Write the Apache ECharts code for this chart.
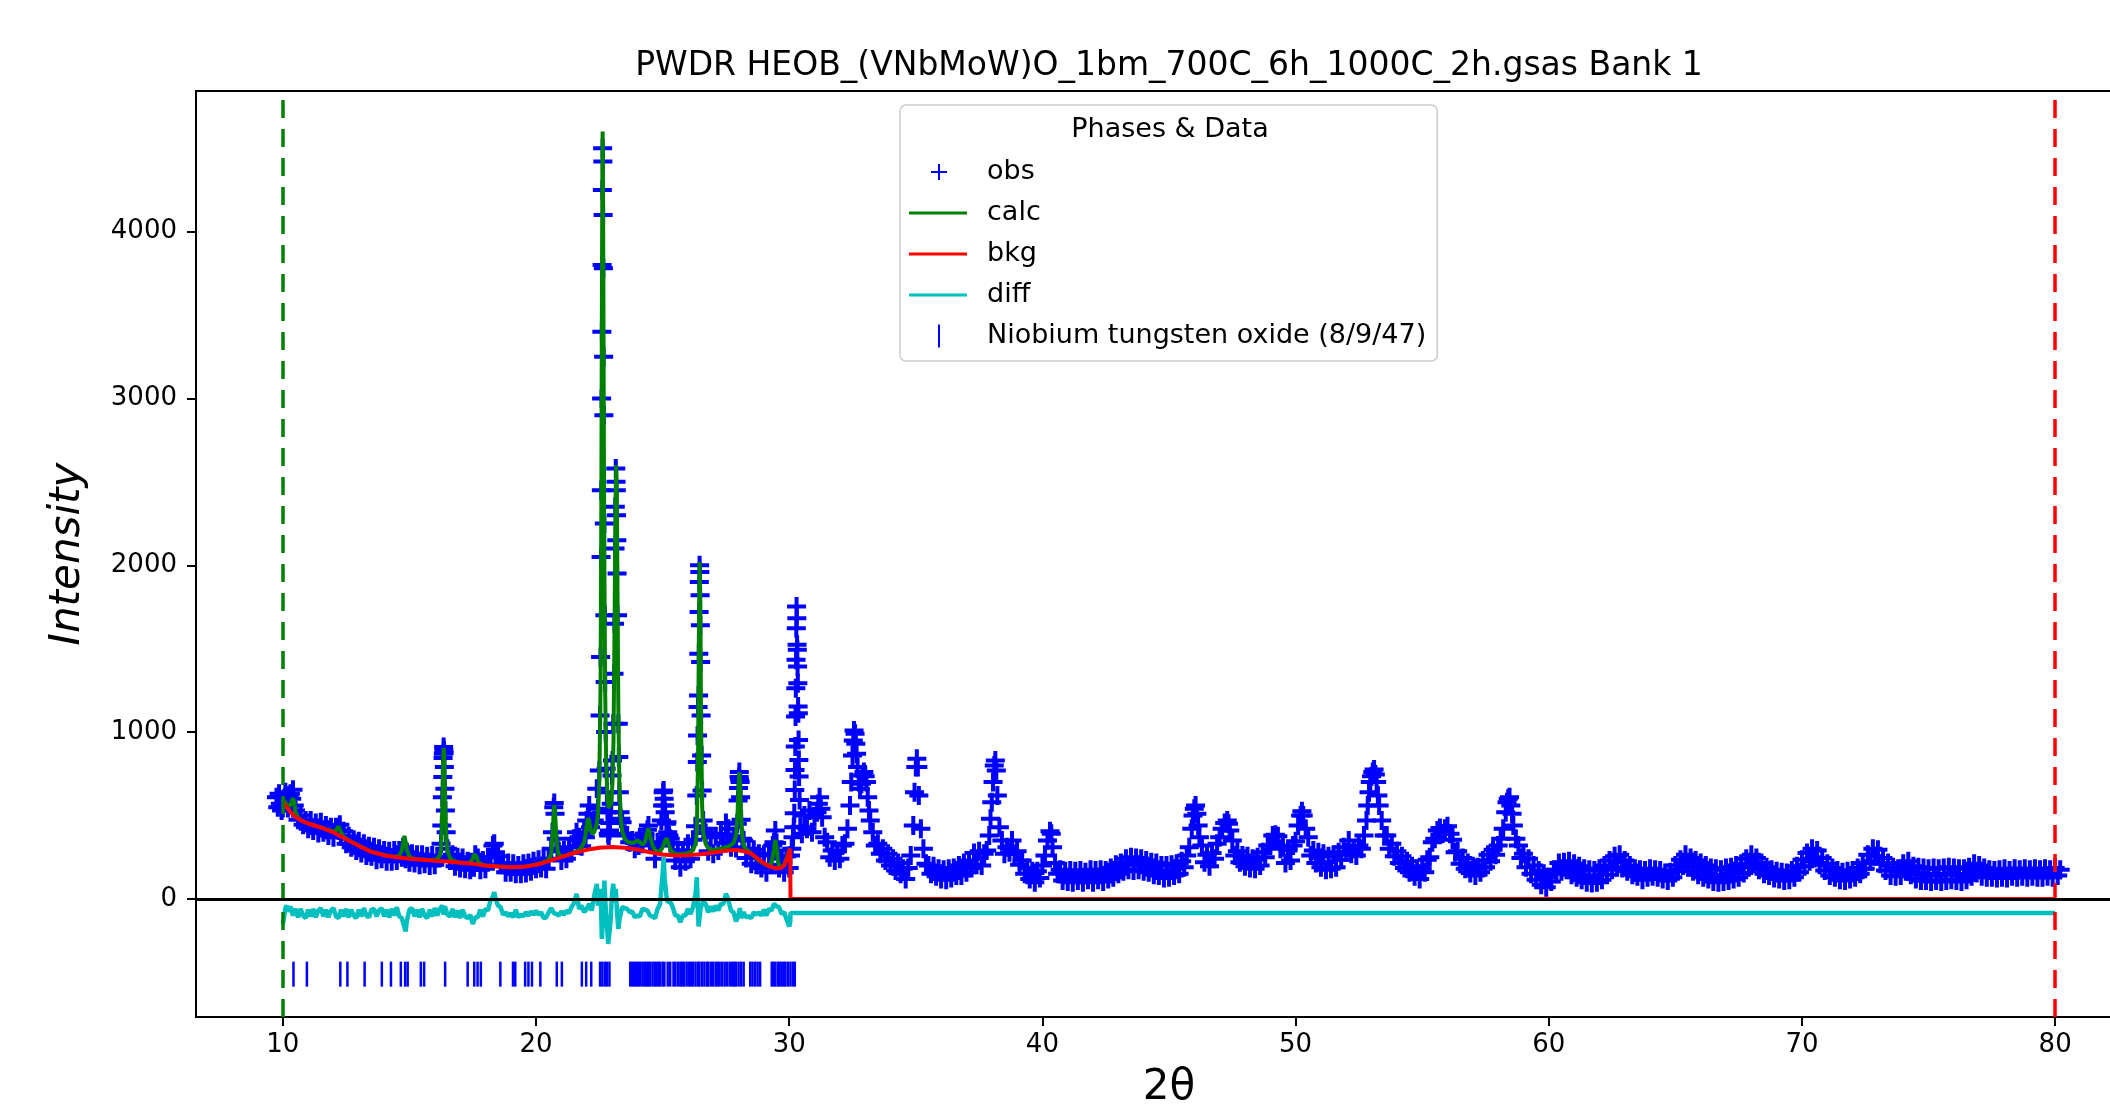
<!DOCTYPE html>
<html>
<head>
<meta charset="utf-8">
<script src="https://cdn.jsdelivr.net/npm/echarts@6/dist/echarts.min.js"></script>
<style>
html,body{margin:0;padding:0;background:#fff;}
#chart{width:2110px;height:1107px;}
</style>
</head>
<body>
<div id="chart"></div>
<script>
// ---------------- DATA ----------------
const titleText = 'PWDR HEOB_(VNbMoW)O_1bm_700C_6h_1000C_2h.gsas Bank 1';
const xTicks = [10, 20, 30, 40, 50, 60, 70, 80];
const yTicks = [0, 1000, 2000, 3000, 4000];
const limits = [10, 80];
const phaseName = 'Niobium tungsten oxide (8/9/47)';
const tickRowY = -451;

// observed intensity, 9.75 - 30.0 deg
const obsA = [[9.75,610],[9.8,550],[9.85,630],[9.9,570],[9.95,530],
[10.0,545],[10.05,600],[10.1,640],[10.15,575],[10.2,545],[10.25,620],[10.3,630],[10.35,600],[10.4,655],[10.45,560],[10.5,530],[10.6,475],[10.7,500],[10.8,445],[10.9,470],[11.0,420],[11.1,470],[11.2,410],[11.3,455],[11.4,395],[11.5,460],[11.6,400],[11.7,440],[11.8,380],[11.9,430],[12.0,370],[12.1,430],[12.2,410],[12.25,445],[12.3,375],[12.4,405],[12.5,330],[12.6,375],[12.7,310],[12.8,355],[12.9,290],[13.0,345],[13.1,275],[13.2,330],[13.3,260],[13.4,315],[13.5,255],[13.6,310],[13.7,235],[13.8,300],[13.9,240],[14.0,290],[14.1,225],[14.2,285],[14.3,225],[14.4,290],[14.5,230],[14.6,290],[14.7,250],[14.75,310],[14.8,300],[14.85,240],[14.9,280],[15.0,220],[15.1,270],[15.2,215],[15.3,265],[15.4,205],[15.5,265],[15.6,210],[15.7,255],[15.8,200],[15.9,260],[16.0,205],[16.1,255],[16.2,245],[16.25,330],[16.28,440],[16.3,610],[16.32,730],[16.33,845],[16.34,870],[16.35,910],[16.36,890],[16.37,875],[16.38,790],[16.4,660],[16.42,530],[16.45,400],[16.5,300],[16.6,230],[16.7,265],[16.8,195],[16.9,250],[17.0,185],[17.1,245],[17.2,180],[17.3,225],[17.4,175],[17.5,215],[17.55,190],[17.6,265],[17.65,220],[17.7,245],[17.8,175],[17.9,230],[18.0,180],[18.1,250],[18.2,250],[18.3,320],[18.35,330],[18.4,280],[18.5,255],[18.6,205],[18.7,215],[18.8,160],[18.9,215],[19.0,160],[19.1,210],[19.2,150],[19.3,200],[19.4,150],[19.5,210],[19.6,155],[19.7,215],[19.8,165],[19.9,225],[20.0,180],[20.1,235],[20.2,185],[20.3,240],[20.4,180],[20.5,240],[20.6,300],[20.65,400],[20.7,550],[20.72,575],[20.75,510],[20.8,360],[20.85,295],[20.9,285],[21.0,230],[21.1,290],[21.2,240],[21.3,310],[21.4,275],[21.5,360],[21.6,400],[21.65,350],[21.7,370],[21.8,315],[21.9,395],[21.95,370],[22.0,470],[22.05,510],[22.1,560],[22.15,430],[22.2,460],[22.3,470],[22.4,660],[22.45,540],[22.5,770],[22.53,1100],[22.55,1450],[22.57,2050],[22.58,2450],[22.59,3000],[22.6,3400],[22.61,3800],[22.62,4250],[22.63,4500],[22.64,4420],[22.65,4100],[22.66,3780],[22.67,3250],[22.68,2900],[22.7,2250],[22.72,1700],[22.73,1300],[22.75,1000],[22.77,780],[22.8,640],[22.82,520],[22.85,390],[22.87,380],[22.9,410],[22.92,455],[22.95,520],[22.97,570],[23.0,740],[23.02,830],[23.05,1050],[23.08,1350],[23.1,1650],[23.12,2100],[23.13,2350],[23.15,2580],[23.16,2500],[23.17,2450],[23.18,2300],[23.19,2150],[23.2,1950],[23.22,1700],[23.25,1050],[23.27,850],[23.29,640],[23.32,520],[23.35,480],[23.4,460],[23.5,390],[23.6,380],[23.7,340],[23.8,350],[23.9,300],[24.0,345],[24.05,320],[24.1,355],[24.2,330],[24.3,390],[24.4,415],[24.44,440],[24.5,335],[24.6,335],[24.7,240],[24.8,340],[24.9,320],[24.95,470],[25.0,560],[25.02,640],[25.04,650],[25.06,600],[25.08,560],[25.1,520],[25.15,450],[25.17,460],[25.2,400],[25.25,380],[25.3,360],[25.35,330],[25.4,335],[25.5,230],[25.6,290],[25.7,190],[25.8,290],[25.9,225],[26.0,330],[26.1,240],[26.2,355],[26.3,435],[26.35,620],[26.37,820],[26.38,980],[26.4,1150],[26.42,1220],[26.43,1470],[26.44,1720],[26.45,1900],[26.46,2000],[26.47,1960],[26.48,1820],[26.49,1640],[26.5,1420],[26.52,1100],[26.54,860],[26.56,650],[26.6,470],[26.65,420],[26.7,395],[26.8,285],[26.9,370],[27.0,270],[27.1,375],[27.2,290],[27.3,390],[27.4,335],[27.5,455],[27.55,385],[27.6,420],[27.7,310],[27.8,375],[27.9,305],[27.95,450],[27.98,590],[28.0,665],[28.02,730],[28.03,760],[28.04,715],[28.06,700],[28.08,610],[28.1,475],[28.15,360],[28.2,350],[28.3,245],[28.4,300],[28.5,210],[28.6,295],[28.7,205],[28.8,270],[28.9,185],[29.0,265],[29.1,160],[29.2,260],[29.3,205],[29.35,320],[29.4,340],[29.45,410],[29.5,335],[29.55,290],[29.6,185],[29.7,240],[29.8,160],[29.9,255],[30.0,185]];

// observed intensity, 30.05 - 80.2 deg
const obsB = [[30.05,260],[30.1,300],[30.15,370],[30.18,430],[30.2,513],[30.22,653],[30.23,773],[30.24,913],[30.25,1093],[30.26,1263],[30.27,1433],[30.28,1623],[30.29,1753],[30.3,1683],[30.31,1523],[30.32,1493],[30.33,1393],[30.34,1293],[30.35,1153],[30.36,1113],[30.37,953],[30.38,833],[30.39,733],[30.41,593],[30.44,433],[30.5,390],[30.6,500],[30.7,420],[30.8,530],[30.9,400],[31.0,490],[31.1,520],[31.15,570],[31.2,610],[31.25,540],[31.3,490],[31.4,370],[31.5,340],[31.6,250],[31.7,290],[31.8,230],[31.9,285],[32.0,240],[32.1,320],[32.2,330],[32.3,420],[32.4,560],[32.45,700],[32.5,860],[32.53,950],[32.56,1010],[32.6,990],[32.63,930],[32.66,870],[32.7,790],[32.75,700],[32.8,660],[32.85,690],[32.9,740],[32.95,760],[33.0,735],[33.05,700],[33.1,610],[33.15,530],[33.2,470],[33.3,400],[33.4,320],[33.5,330],[33.6,270],[33.7,300],[33.8,230],[33.9,270],[34.0,200],[34.1,240],[34.2,170],[34.3,215],[34.4,150],[34.5,180],[34.6,120],[34.7,185],[34.8,260],[34.9,440],[34.95,640],[35.0,790],[35.04,840],[35.08,790],[35.12,620],[35.2,420],[35.3,300],[35.4,210],[35.5,200],[35.6,150],[35.7,195],[35.8,135],[35.9,180],[36.0,120],[36.1,175],[36.2,115],[36.3,180],[36.4,125],[36.5,185],[36.6,140],[36.7,200],[36.8,140],[36.9,215],[37.0,160],[37.1,230],[37.2,185],[37.3,275],[37.4,205],[37.5,285],[37.6,200],[37.7,270],[37.8,290],[37.9,380],[37.95,480],[38.0,580],[38.05,700],[38.1,800],[38.14,830],[38.18,770],[38.22,620],[38.3,430],[38.4,350],[38.5,270],[38.6,310],[38.7,280],[38.8,350],[38.9,270],[39.0,285],[39.1,205],[39.2,230],[39.3,150],[39.4,185],[39.5,120],[39.6,165],[39.7,100],[39.8,165],[39.9,125],[40.0,200],[40.1,260],[40.2,350],[40.3,405],[40.35,390],[40.4,310],[40.5,215],[40.6,150],[40.7,175],[40.8,110],[40.9,165],[41.0,105],[41.1,170],[41.2,100],[41.3,165],[41.4,110],[41.5,170],[41.6,100],[41.7,160],[41.8,115],[41.9,175],[42.0,100],[42.1,170],[42.2,115],[42.3,175],[42.4,105],[42.5,170],[42.6,120],[42.7,185],[42.8,130],[42.9,205],[43.0,150],[43.1,215],[43.2,165],[43.3,240],[43.4,175],[43.5,250],[43.6,170],[43.7,245],[43.8,175],[43.9,240],[44.0,165],[44.1,230],[44.2,160],[44.3,220],[44.4,145],[44.5,215],[44.6,140],[44.7,200],[44.8,125],[44.9,200],[45.0,130],[45.1,205],[45.2,140],[45.3,210],[45.4,150],[45.5,225],[45.6,190],[45.7,260],[45.8,310],[45.9,420],[45.95,500],[46.0,540],[46.05,560],[46.1,510],[46.15,440],[46.2,370],[46.3,320],[46.4,220],[46.5,265],[46.6,195],[46.7,275],[46.8,240],[46.9,330],[47.0,370],[47.1,420],[47.2,455],[47.3,470],[47.35,450],[47.4,410],[47.5,350],[47.6,260],[47.7,285],[47.8,220],[47.9,260],[48.0,195],[48.1,255],[48.2,185],[48.3,240],[48.4,180],[48.5,250],[48.6,200],[48.7,280],[48.8,250],[48.9,320],[49.0,320],[49.1,380],[49.2,385],[49.3,375],[49.4,300],[49.5,310],[49.6,215],[49.7,290],[49.8,230],[49.9,320],[50.0,345],[50.1,440],[50.2,500],[50.25,525],[50.3,500],[50.4,420],[50.5,370],[50.6,260],[50.7,290],[50.8,215],[50.9,280],[51.0,190],[51.1,270],[51.2,175],[51.3,255],[51.4,180],[51.5,265],[51.6,190],[51.7,280],[51.8,235],[51.9,310],[52.0,280],[52.1,350],[52.2,270],[52.3,300],[52.4,260],[52.5,320],[52.6,300],[52.7,380],[52.8,470],[52.85,560],[52.9,640],[52.95,700],[53.0,735],[53.05,760],[53.1,775],[53.15,745],[53.2,700],[53.25,620],[53.3,560],[53.4,470],[53.5,380],[53.6,380],[53.7,300],[53.8,330],[53.9,255],[54.0,285],[54.1,215],[54.2,255],[54.3,185],[54.4,225],[54.5,160],[54.6,195],[54.7,135],[54.8,180],[54.9,120],[55.0,180],[55.1,160],[55.2,235],[55.3,250],[55.4,340],[55.5,360],[55.6,410],[55.7,425],[55.8,390],[55.9,420],[56.0,435],[56.1,390],[56.2,355],[56.3,280],[56.4,285],[56.5,210],[56.6,245],[56.7,180],[56.8,215],[56.9,155],[57.0,195],[57.1,140],[57.2,190],[57.3,160],[57.4,230],[57.5,190],[57.6,265],[57.7,225],[57.8,295],[57.9,265],[58.0,320],[58.1,360],[58.2,420],[58.3,520],[58.35,580],[58.4,600],[58.45,610],[58.5,560],[58.55,510],[58.6,440],[58.7,360],[58.8,320],[58.9,245],[59.0,270],[59.1,190],[59.2,240],[59.3,150],[59.4,200],[59.5,115],[59.6,170],[59.7,85],[59.8,150],[59.9,70],[60.0,130],[60.1,105],[60.2,175],[60.3,150],[60.4,215],[60.5,165],[60.6,220],[60.7,175],[60.8,225],[60.9,145],[61.0,210],[61.1,130],[61.2,195],[61.3,115],[61.4,180],[61.5,100],[61.6,175],[61.7,95],[61.8,170],[61.9,100],[62.0,180],[62.1,115],[62.2,200],[62.3,145],[62.4,230],[62.5,175],[62.6,255],[62.7,190],[62.8,265],[62.9,185],[63.0,230],[63.1,165],[63.2,200],[63.3,145],[63.4,180],[63.5,135],[63.6,175],[63.7,115],[63.8,170],[63.9,130],[64.0,180],[64.1,135],[64.2,175],[64.3,130],[64.4,170],[64.5,120],[64.6,155],[64.7,110],[64.8,160],[64.9,130],[65.0,200],[65.1,165],[65.2,235],[65.3,200],[65.4,265],[65.5,190],[65.6,245],[65.7,165],[65.8,230],[65.9,145],[66.0,215],[66.1,130],[66.2,200],[66.3,120],[66.4,185],[66.5,105],[66.6,180],[66.7,100],[66.8,175],[66.9,105],[67.0,185],[67.1,110],[67.2,190],[67.3,120],[67.4,200],[67.5,130],[67.6,210],[67.7,155],[67.8,240],[67.9,190],[68.0,265],[68.1,210],[68.2,245],[68.3,175],[68.4,215],[68.5,150],[68.6,190],[68.7,140],[68.8,175],[68.9,125],[69.0,165],[69.1,120],[69.2,160],[69.3,110],[69.4,155],[69.5,115],[69.6,170],[69.7,130],[69.8,195],[69.9,160],[70.0,235],[70.1,195],[70.2,275],[70.3,225],[70.4,300],[70.5,245],[70.6,290],[70.7,205],[70.8,245],[70.9,170],[71.0,210],[71.1,140],[71.2,185],[71.3,130],[71.4,170],[71.5,115],[71.6,160],[71.7,110],[71.8,165],[71.9,120],[72.0,170],[72.1,130],[72.2,185],[72.3,150],[72.4,215],[72.5,180],[72.6,265],[72.7,225],[72.8,300],[72.9,255],[73.0,295],[73.1,210],[73.2,245],[73.3,170],[73.4,215],[73.5,140],[73.6,190],[73.7,135],[73.8,180],[73.9,140],[74.0,210],[74.1,165],[74.2,225],[74.3,145],[74.4,195],[74.5,120],[74.6,190],[74.7,110],[74.8,185],[74.9,110],[75.0,180],[75.1,105],[75.2,185],[75.3,110],[75.4,180],[75.5,105],[75.6,185],[75.7,110],[75.8,190],[75.9,115],[76.0,185],[76.1,110],[76.2,180],[76.3,105],[76.4,180],[76.5,115],[76.6,190],[76.7,135],[76.8,210],[76.9,155],[77.0,200],[77.1,135],[77.2,185],[77.3,130],[77.4,175],[77.5,130],[77.6,170],[77.7,125],[77.8,175],[77.9,130],[78.0,180],[78.1,125],[78.2,170],[78.3,135],[78.4,180],[78.5,130],[78.6,175],[78.7,135],[78.8,180],[78.9,130],[79.0,175],[79.1,135],[79.2,180],[79.3,130],[79.4,175],[79.5,130],[79.6,180],[79.7,135],[79.8,175],[79.9,130],[80.0,185],[80.1,140],[80.2,175]];

// calculated profile (refined range 10 - 30.04)
const calc = [[10.0,600],[10.1,575],[10.2,560],[10.3,560],[10.35,585],[10.4,605],[10.45,580],[10.5,520],[10.6,490],[10.7,475],[10.8,466],[10.9,459],[11.0,453],[11.1,448],[11.2,443],[11.3,438],[11.4,433],[11.5,429],[11.6,424],[11.7,418],[11.8,413],[11.9,408],[12.0,405],[12.1,410],[12.2,436],[12.25,432],[12.3,400],[12.4,372],[12.5,360],[12.6,351],[12.7,343],[12.8,335],[12.9,327],[13.0,319],[13.1,312],[13.2,304],[13.3,297],[13.4,290],[13.5,283],[13.6,279],[13.7,275],[13.8,271],[13.9,267],[14.0,263],[14.1,260],[14.2,257],[14.3,255],[14.4,254],[14.5,254],[14.6,258],[14.7,290],[14.75,340],[14.8,378],[14.85,345],[14.9,290],[15.0,255],[15.1,244],[15.2,240],[15.3,238],[15.4,237],[15.5,236],[15.6,235],[15.7,234],[15.8,233],[15.9,233],[16.0,234],[16.1,240],[16.2,262],[16.25,300],[16.3,560],[16.33,820],[16.35,905],[16.37,860],[16.4,640],[16.45,380],[16.5,290],[16.6,246],[16.7,232],[16.8,226],[16.9,222],[17.0,219],[17.1,217],[17.2,215],[17.3,214],[17.4,220],[17.5,240],[17.55,268],[17.6,274],[17.65,255],[17.7,226],[17.8,210],[17.9,205],[18.0,201],[18.1,199],[18.2,198],[18.3,197],[18.4,196],[18.5,195],[18.6,194],[18.7,193],[18.8,192],[18.9,191],[19.0,190],[19.1,190],[19.2,190],[19.3,191],[19.4,191],[19.5,193],[19.6,195],[19.7,198],[19.8,201],[19.9,204],[20.0,207],[20.1,211],[20.2,215],[20.3,220],[20.4,226],[20.5,236],[20.6,270],[20.65,380],[20.7,530],[20.72,564],[20.75,520],[20.8,380],[20.85,295],[20.9,265],[21.0,256],[21.1,258],[21.2,262],[21.3,267],[21.4,272],[21.5,279],[21.6,286],[21.7,294],[21.8,310],[21.9,340],[21.95,380],[22.0,440],[22.05,484],[22.1,470],[22.15,420],[22.2,390],[22.3,400],[22.4,450],[22.45,520],[22.5,700],[22.55,1300],[22.58,2400],[22.6,3500],[22.62,4350],[22.63,4600],[22.64,4450],[22.66,3700],[22.68,2700],[22.7,2000],[22.73,1250],[22.77,820],[22.82,610],[22.87,545],[22.92,534],[22.97,570],[23.02,700],[23.06,950],[23.1,1600],[23.13,2250],[23.16,2580],[23.17,2600],[23.19,2450],[23.22,1800],[23.25,1150],[23.29,700],[23.35,480],[23.4,410],[23.5,360],[23.6,345],[23.7,338],[23.8,335],[23.9,340],[24.0,350],[24.05,356],[24.1,340],[24.2,325],[24.3,340],[24.4,405],[24.44,424],[24.5,380],[24.6,320],[24.7,292],[24.8,283],[24.9,285],[25.0,310],[25.1,350],[25.17,364],[25.25,320],[25.35,285],[25.5,270],[25.6,268],[25.7,268],[25.8,270],[25.9,272],[26.0,275],[26.1,280],[26.2,292],[26.3,330],[26.35,400],[26.4,850],[26.43,1550],[26.46,2020],[26.49,1750],[26.52,1050],[26.56,560],[26.6,400],[26.7,330],[26.8,305],[26.9,296],[27.0,294],[27.1,296],[27.2,300],[27.3,303],[27.4,306],[27.5,310],[27.6,315],[27.7,322],[27.8,335],[27.9,380],[27.95,480],[28.0,680],[28.03,760],[28.06,690],[28.1,500],[28.15,370],[28.2,320],[28.3,298],[28.4,285],[28.5,272],[28.6,258],[28.7,244],[28.8,231],[28.9,220],[29.0,212],[29.1,204],[29.2,200],[29.3,215],[29.4,300],[29.45,354],[29.5,310],[29.55,230],[29.6,195],[29.7,193],[29.8,205],[29.9,245],[30.0,290],[30.04,300]];

// refined background
const bkg = [[10.0,584],[10.1,560],[10.2,540],[10.3,520],[10.4,505],[10.5,492],[10.6,482],[10.75,468],[11.0,452],[11.25,440],[11.5,428],[11.75,414],[12.0,398],[12.25,379],[12.5,358],[12.75,338],[13.0,318],[13.25,300],[13.5,282],[13.75,272],[14.0,262],[14.25,255],[14.5,250],[14.75,245],[15.0,241],[15.5,235],[16.0,229],[16.5,224],[17.0,217],[17.5,210],[18.0,200],[18.5,194],[19.0,190],[19.5,192],[19.75,198],[20.0,205],[20.25,214],[20.5,226],[20.75,238],[21.0,250],[21.5,275],[22.0,294],[22.5,306],[23.0,311],[23.5,307],[24.0,296],[24.5,280],[25.0,266],[25.5,260],[26.0,262],[26.5,268],[27.0,278],[27.5,289],[27.8,293],[28.0,292],[28.25,284],[28.5,272],[28.75,242],[29.0,214],[29.25,193],[29.5,183],[29.65,184],[29.8,200],[29.9,235],[30.0,285],[30.04,300],[30.05,0],[80.0,0]];

// difference curve (plotted with its offset)
const diff = [[10.0,-150],[10.05,-110],[10.1,-55],[10.15,-40],[10.2,-75],[10.3,-45],[10.4,-100],[10.5,-60],[10.6,-110],[10.7,-60],[10.8,-100],[10.9,-115],[11.0,-65],[11.1,-105],[11.2,-60],[11.3,-110],[11.4,-70],[11.5,-55],[11.6,-105],[11.7,-65],[11.8,-110],[11.9,-70],[12.0,-55],[12.1,-105],[12.2,-115],[12.3,-65],[12.4,-105],[12.5,-60],[12.6,-110],[12.7,-65],[12.8,-100],[12.9,-115],[13.0,-65],[13.1,-105],[13.2,-55],[13.3,-100],[13.4,-110],[13.5,-65],[13.6,-60],[13.7,-105],[13.8,-70],[13.9,-55],[14.0,-105],[14.1,-65],[14.2,-110],[14.3,-60],[14.4,-100],[14.5,-50],[14.6,-105],[14.7,-115],[14.8,-170],[14.85,-195],[14.9,-130],[15.0,-65],[15.1,-55],[15.2,-105],[15.3,-65],[15.4,-110],[15.5,-60],[15.6,-100],[15.7,-115],[15.8,-65],[15.9,-105],[16.0,-55],[16.1,-100],[16.2,-60],[16.3,-40],[16.35,-95],[16.4,-45],[16.5,-95],[16.6,-105],[16.7,-60],[16.8,-110],[16.9,-70],[17.0,-115],[17.1,-65],[17.2,-105],[17.3,-115],[17.4,-95],[17.5,-150],[17.6,-110],[17.7,-110],[17.8,-65],[17.9,-105],[18.0,-60],[18.1,-70],[18.2,-10],[18.3,15],[18.35,40],[18.4,0],[18.5,-40],[18.6,-50],[18.7,-95],[18.8,-80],[18.9,-105],[19.0,-85],[19.1,-110],[19.2,-65],[19.3,-110],[19.4,-95],[19.5,-105],[19.6,-80],[19.7,-100],[19.8,-75],[19.9,-95],[20.0,-70],[20.1,-95],[20.2,-80],[20.3,-115],[20.4,-110],[20.5,-80],[20.6,-55],[20.7,-85],[20.8,-90],[20.9,-100],[21.0,-75],[21.1,-95],[21.2,-70],[21.3,-85],[21.4,-50],[21.5,-25],[21.6,30],[21.65,-10],[21.7,-60],[21.8,-40],[21.9,-80],[22.0,-60],[22.1,-30],[22.2,-70],[22.3,20],[22.4,90],[22.45,-40],[22.5,-20],[22.55,60],[22.6,-240],[22.65,-90],[22.7,110],[22.75,-50],[22.8,-160],[22.85,-270],[22.9,-200],[22.95,-120],[23.0,30],[23.05,90],[23.1,-20],[23.15,60],[23.2,-80],[23.25,-180],[23.3,-120],[23.4,-50],[23.5,-55],[23.6,-60],[23.7,-80],[23.8,-75],[23.9,-110],[24.0,-100],[24.1,-105],[24.2,-60],[24.3,-65],[24.4,-70],[24.5,-100],[24.6,-105],[24.7,-115],[24.8,-60],[24.9,-30],[25.0,150],[25.04,250],[25.08,120],[25.15,20],[25.2,-20],[25.3,-15],[25.4,-50],[25.5,-100],[25.6,-100],[25.7,-140],[25.8,-100],[25.9,-100],[26.0,-60],[26.1,-90],[26.2,-50],[26.3,30],[26.35,130],[26.42,-165],[26.5,-60],[26.6,-15],[26.7,-30],[26.8,-80],[26.9,-45],[27.0,-75],[27.1,-40],[27.2,-70],[27.3,-30],[27.4,-30],[27.5,30],[27.55,15],[27.6,-10],[27.7,-70],[27.8,-80],[27.9,-135],[28.0,-95],[28.05,-55],[28.1,-115],[28.2,-80],[28.3,-110],[28.4,-105],[28.5,-115],[28.6,-80],[28.7,-95],[28.8,-80],[28.9,-100],[29.0,-65],[29.1,-100],[29.2,-60],[29.3,-70],[29.4,-30],[29.5,-45],[29.6,-50],[29.7,-90],[29.8,-80],[29.9,-125],[30.0,-165],[30.04,-140],[30.05,-85],[80.0,-85]];

// reflection positions of the phase
const reflections = [10.42,10.95,12.27,12.55,13.23,13.91,14.27,14.66,14.83,14.93,15.45,15.58,16.41,17.30,17.56,17.69,17.82,18.59,19.09,19.18,19.57,19.70,19.84,20.17,20.82,21.02,21.81,21.98,22.18,22.53,22.62,22.72,22.80,22.90,23.72,23.80,23.88,23.95,24.03,24.10,24.20,24.28,24.35,24.43,24.50,24.60,24.68,24.75,24.83,24.90,25.00,25.07,25.20,25.30,25.43,25.50,25.60,25.70,25.77,25.85,25.95,26.05,26.12,26.20,26.30,26.40,26.45,26.55,26.65,26.75,26.80,26.90,27.00,27.10,27.18,27.25,27.35,27.45,27.55,27.65,27.75,27.83,27.90,28.00,28.10,28.20,28.46,28.55,28.65,28.75,28.85,29.31,29.38,29.45,29.55,29.62,29.70,29.78,29.85,29.95,30.05,30.15,30.22];

// ---------------- CHART ----------------
const FONT = 'DejaVu Sans';
const obs = obsA.concat(obsB);
const tickData = reflections.map(function (p) { return [p, tickRowY]; });
const plain = function (v) { return String(v); };

const plusSym = 'path://M-2,-9.5H2V-2H9.5V2H2V9.5H-2V2H-9.5V-2H-2Z';
const iconPlus = 'path://M0,0M73,30M29,7H31V14H38V16H31V23H29V16H22V14H29Z';
const iconLine = 'path://M0,0M73,30M0,13.5H58V16.5H0Z';
const iconBar = 'path://M0,0M73,30M29,3.5H31V26.5H29Z';

const chart = echarts.init(document.getElementById('chart'));
chart.setOption({
  animation: false,
  backgroundColor: '#ffffff',
  title: {
    text: titleText,
    left: 1169, top: 50, padding: 0, textAlign: 'center',
    textStyle: { fontFamily: FONT, fontSize: 33, fontWeight: 'normal', color: '#000' }
  },
  grid: {
    left: 196, top: 91, width: 1946, height: 926,
    outerBoundsMode: 'none', containLabel: false,
    show: true, borderColor: '#000', borderWidth: 2, backgroundColor: 'transparent'
  },
  legend: {
    orient: 'vertical', left: 900, top: 105,
    itemWidth: 73, itemHeight: 30, itemGap: 11,
    padding: [52, 11, 10, 9],
    borderColor: '#cccccc', borderWidth: 1.5, borderRadius: 6,
    backgroundColor: 'rgba(255,255,255,0.8)',
    selectedMode: false,
    textStyle: { fontFamily: FONT, fontSize: 27, color: '#000' },
    data: [
      { name: 'obs', icon: iconPlus, itemStyle: { color: '#0000ff', borderWidth: 0 } },
      { name: 'calc', icon: iconLine, itemStyle: { color: '#008000', borderWidth: 0 } },
      { name: 'bkg', icon: iconLine, itemStyle: { color: '#ff0000', borderWidth: 0 } },
      { name: 'diff', icon: iconLine, itemStyle: { color: '#00bfbf', borderWidth: 0 } },
      { name: phaseName, icon: iconBar, itemStyle: { color: '#0000ff', borderWidth: 0 } }
    ]
  },
  graphic: [{
    type: 'text', x: 1170, y: 130, z: 100,
    style: { text: 'Phases & Data', fontFamily: FONT, fontSize: 27, fill: '#000', align: 'center', verticalAlign: 'middle' }
  }],
  xAxis: {
    type: 'value', min: 6.57, max: 83.43,
    name: '2θ', nameLocation: 'middle', nameGap: 50,
    nameTextStyle: { fontFamily: FONT, fontSize: 42, color: '#000' },
    axisLine: { onZero: false, lineStyle: { color: '#000', width: 2 } },
    axisTick: { customValues: xTicks, length: 9, lineStyle: { color: '#000', width: 2 } },
    axisLabel: { customValues: xTicks, formatter: plain, margin: 15, fontFamily: FONT, fontSize: 26, color: '#000' },
    splitLine: { show: false }
  },
  yAxis: {
    type: 'value', min: -708, max: 4843,
    name: 'Intensity', nameLocation: 'middle', nameGap: 107, nameRotate: 90,
    nameTextStyle: { fontFamily: FONT, fontSize: 42, fontStyle: 'italic', color: '#000' },
    axisLine: { onZero: false, lineStyle: { color: '#000', width: 2 } },
    axisTick: { customValues: yTicks, length: 9, lineStyle: { color: '#000', width: 2 } },
    axisLabel: { customValues: yTicks, formatter: plain, margin: 19, fontFamily: FONT, fontSize: 26, color: '#000' },
    splitLine: { show: false }
  },
  series: [
    {
      name: 'limits', type: 'line', data: [], z: 1, silent: true,
      markLine: {
        silent: true, symbol: ['none', 'none'], label: { show: false },
        data: [
          { xAxis: limits[0], lineStyle: { color: '#008000', width: 3.5, type: [18, 11] } },
          { xAxis: limits[1], lineStyle: { color: '#ff0000', width: 3.5, type: [18, 11] } }
        ]
      }
    },
    {
      name: 'obs', type: 'scatter', data: obs, z: 2,
      symbol: plusSym, symbolSize: [19, 19],
      itemStyle: { color: '#0000ff', opacity: 1 }
    },
    {
      name: 'calc', type: 'line', data: calc, z: 3, showSymbol: false,
      lineStyle: { color: '#008000', width: 4 }, itemStyle: { color: '#008000' }
    },
    {
      name: 'bkg', type: 'line', data: bkg, z: 3, showSymbol: false,
      lineStyle: { color: '#ff0000', width: 4 }, itemStyle: { color: '#ff0000' }
    },
    {
      name: 'diff', type: 'line', data: diff, z: 3, showSymbol: false,
      lineStyle: { color: '#00bfbf', width: 4.5 }, itemStyle: { color: '#00bfbf' }
    },
    {
      name: phaseName, type: 'scatter', data: tickData, z: 3,
      symbol: 'rect', symbolSize: [2.5, 25],
      itemStyle: { color: '#0000ff', opacity: 1 }
    },
    {
      name: 'zero', type: 'line', data: [], z: 5, silent: true,
      markLine: {
        silent: true, symbol: ['none', 'none'], label: { show: false },
        data: [{ yAxis: 0, lineStyle: { color: '#000', width: 3, type: 'solid' } }]
      }
    }
  ]
});
</script>
</body>
</html>
